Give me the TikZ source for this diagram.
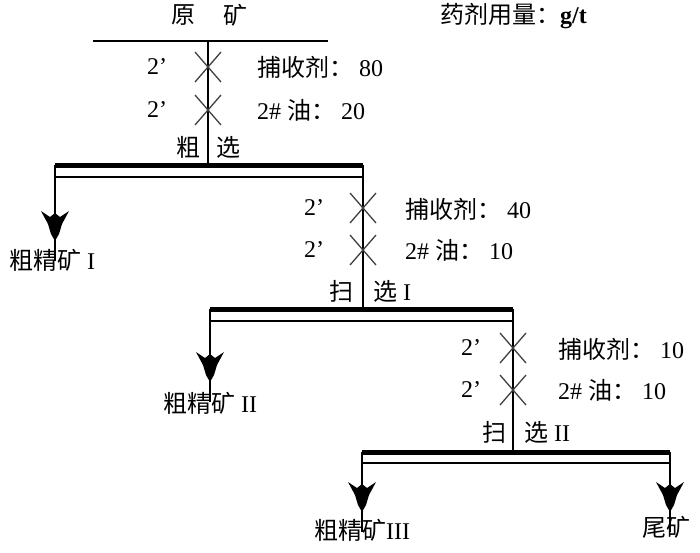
\documentclass[tikz,border=0pt]{standalone}
\usepackage{fontspec}
\setmainfont{Liberation Serif}
\newfontfamily\cjk{Noto Sans CJK SC}
\newcommand{\colsp}{\hspace{6pt}}
\tikzset{
  lbl/.style={font=\fontsize{24}{26}\selectfont, inner sep=0pt},
  thin/.style={line width=1.8pt},
  thick bar/.style={line width=5pt},
  xmark/.style={line width=1.3pt, black!75},
  pics/arrowhd/.style={code={
    \fill (0,0) -- (-4,-7) -- (-7,-17) -- (-14,-30) -- (-5,-24) -- (0,-28)
          -- (5,-24) -- (14,-30) -- (7,-17) -- (4,-7) -- cycle;}}
}
\begin{document}
\begin{tikzpicture}[x=1pt,y=-1pt]
\useasboundingbox (0,0) rectangle (700,552);

% ---------- headings ----------
\node[lbl] (yuan) at (183,15) {\cjk 原};
\node[lbl] (kuang) at (235,15) {\cjk 矿};
\node[lbl, anchor=west] (dose) at (440,16) {{\cjk 药剂用量：}\textbf{g/t}};

% ---------- feed and rougher ----------
\coordinate (fl) at (93,41);
\coordinate (fr) at (328,41);
\coordinate (f) at (208,41);
\draw[thin] (fl) -- (fr);

\coordinate (b1l) at (55,165);
\coordinate (b1r) at (363,165);
\coordinate (b1c) at (208,165);
\coordinate (t1l) at (55,177);
\coordinate (t1r) at (363,177);
\draw[thin] (f) -- (b1c);
\draw[thick bar] (b1l) -- (b1r);
\draw[thin] (t1l) -- (t1r);

\foreach \y in {67,110}{
  \draw[xmark] (208-13,\y-15) -- (208+13,\y+15);
  \draw[xmark] (208-13,\y+15) -- (208+13,\y-15);
}
\node[lbl] (r2a) at (157,67) {2’};
\node[lbl] (r2b) at (157,110) {2’};
\node[lbl, anchor=west] (rc) at (257,67) {{\cjk 捕收剂：}\colsp 80};
\node[lbl, anchor=west] (ro) at (257,110) {2\# {\cjk 油：}\colsp 20};
\node[lbl] (rcu) at (188,147) {\cjk 粗};
\node[lbl] (rxu) at (228,147) {\cjk 选};

% concentrate I
\coordinate (a1) at (55,241);
\draw[thin] (b1l) -- ([yshift=-20pt]a1);
\pic at (a1) {arrowhd};
\node[lbl] (c1) at (52,260) {{\cjk 粗精矿} I};

% ---------- scavenger I ----------
\coordinate (b2l) at (210,309);
\coordinate (b2r) at (513,309);
\coordinate (b2c) at (363,309);
\coordinate (t2l) at (210,321);
\coordinate (t2r) at (513,321);
\draw[thin] (b1r) -- (b2c);
\draw[thick bar] (b2l) -- (b2r);
\draw[thin] (t2l) -- (t2r);

\foreach \y in {208,250}{
  \draw[xmark] (363-13,\y-15) -- (363+13,\y+15);
  \draw[xmark] (363-13,\y+15) -- (363+13,\y-15);
}
\node[lbl] (s2a) at (314,208) {2’};
\node[lbl] (s2b) at (314,250) {2’};
\node[lbl, anchor=west] (sc) at (405,209) {{\cjk 捕收剂：}\colsp 40};
\node[lbl, anchor=west] (so) at (405,250) {2\# {\cjk 油：}\colsp 10};
\node[lbl] (ssao) at (341,291) {\cjk 扫};
\node[lbl, anchor=west] (ssx) at (373,291) {{\cjk 选} I};

% concentrate II
\coordinate (a2) at (210,382);
\draw[thin] (b2l) -- ([yshift=-20pt]a2);
\pic at (a2) {arrowhd};
\node[lbl] (c2) at (210,403) {{\cjk 粗精矿} II};

% ---------- scavenger II ----------
\coordinate (b3l) at (362,452);
\coordinate (b3r) at (670,452);
\coordinate (b3c) at (513,452);
\coordinate (t3l) at (362,463);
\coordinate (t3r) at (670,463);
\draw[thin] (b2r) -- (b3c);
\draw[thick bar] (b3l) -- (b3r);
\draw[thin] (t3l) -- (t3r);

\foreach \y in {348,390}{
  \draw[xmark] (513-13,\y-15) -- (513+13,\y+15);
  \draw[xmark] (513-13,\y+15) -- (513+13,\y-15);
}
\node[lbl] (u2a) at (471,348) {2’};
\node[lbl] (u2b) at (471,390) {2’};
\node[lbl, anchor=west] (uc) at (558,349) {{\cjk 捕收剂：}\colsp 10};
\node[lbl, anchor=west] (uo) at (558,390) {2\# {\cjk 油：}\colsp 10};
\node[lbl] (usao) at (494,432) {\cjk 扫};
\node[lbl, anchor=west] (usx) at (524,432) {{\cjk 选} II};

% concentrate III and tailings
\coordinate (a3) at (362,512);
\coordinate (a4) at (670,512);
\draw[thin] (b3l) -- ([yshift=-20pt]a3);
\draw[thin] (b3r) -- ([yshift=-20pt]a4);
\pic at (a3) {arrowhd};
\pic at (a4) {arrowhd};
\node[lbl] (c3) at (362,530) {{\cjk 粗精矿}III};
\node[lbl] (tail) at (666,527) {\cjk 尾矿};
\end{tikzpicture}
\end{document}
